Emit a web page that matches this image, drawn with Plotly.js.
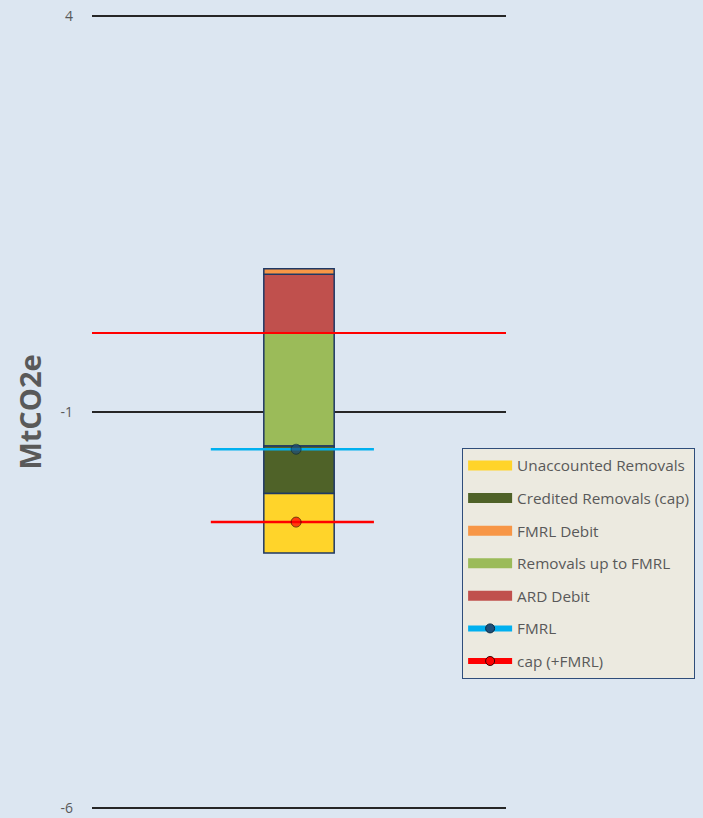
<!DOCTYPE html>
<html>
<head>
<meta charset="utf-8">
<script src="https://cdn.plot.ly/plotly-3.0.1.min.js"></script>
<style>
html,body{margin:0;padding:0;background:#dce6f1;}
#chart{width:703px;height:818px;}
</style>
</head>
<body>
<div id="chart"></div>
<script>
// Stacked bar series (stack order, MtCO2e)
var category = [0];
var seriesNames = ["ARD Debit", "Removals up to FMRL", "FMRL Debit", "Credited Removals (cap)", "Unaccounted Removals"];
var seriesValues = [0.74, -1.43, 0.07, -0.60, -0.75];
var seriesColors = ["#c0504d", "#9bbb59", "#f79646", "#4f6228", "#ffd42a"];
var legendRanks = [5, 4, 3, 2, 1];

// Reference lines
var fmrlValue = -1.47;
var capValue = -2.39;
var lineX = [-0.213, -0.007, 0.181];

var yTickVals = [-6, -1, 4];

var data = [];

// bars (stacked: positives up, negatives down)
for (var i = 0; i < seriesNames.length; i++) {
  data.push({type:'bar', x:category, y:[seriesValues[i]], name:seriesNames[i], width:0.17,
    showlegend:false,
    marker:{color:seriesColors[i], line:{color:'#1f3864', width:1.5}}});
}

// reference lines
data.push({type:'scatter', x:lineX, y:[fmrlValue, fmrlValue, fmrlValue], mode:'lines+markers', showlegend:false,
  line:{color:'#00b0f0', width:2.5}, marker:{color:'#1f4e79', size:[0,10,0], line:{color:'#0a2a40', width:[0,1,0]}}});
data.push({type:'scatter', x:lineX, y:[capValue, capValue, capValue], mode:'lines+markers', showlegend:false,
  line:{color:'#ff0000', width:2.5}, marker:{color:'#ff0000', size:[0,10,0], line:{color:'#3a0000', width:[0,1,0]}}});

// legend entries
for (var j = 0; j < seriesNames.length; j++) {
  data.push({type:'scatter', x:[null], y:[null], name:seriesNames[j], mode:'lines',
    line:{color:seriesColors[j], width:10}, legendgroup:'g'+legendRanks[j], legendrank:legendRanks[j], hoverinfo:'skip'});
}
data.push({type:'scatter', x:[null], y:[null], name:'FMRL', mode:'lines+markers',
  line:{color:'#00b0f0', width:6}, marker:{color:'#1f4e79', size:9, line:{color:'#0a2a40', width:1}},
  legendgroup:'g6', legendrank:6, hoverinfo:'skip'});
data.push({type:'scatter', x:[null], y:[null], name:'cap (+FMRL)', mode:'lines+markers',
  line:{color:'#ff0000', width:6}, marker:{color:'#ff0000', size:9, line:{color:'#3a0000', width:1}},
  legendgroup:'g7', legendrank:7, hoverinfo:'skip'});

var layout = {
  width:703, height:818,
  paper_bgcolor:'#dce6f1', plot_bgcolor:'#dce6f1',
  margin:{l:92, r:197, t:12, b:6},
  barmode:'relative',
  showlegend:true,
  legend:{
    x:0.894, xanchor:'left', y:0.455, yanchor:'top',
    bgcolor:'#eceae0', bordercolor:'#2f4d7a', borderwidth:1,
    traceorder:'grouped', tracegroupgap:9.7,
    itemwidth:44,
    font:{family:'Open Sans, sans-serif', size:15.3, color:'#595959'}
  },
  xaxis:{range:[-0.5,0.5], visible:false, showgrid:false, zeroline:false, fixedrange:true},
  yaxis:{
    range:[-6.05, 4.05], tickvals:yTickVals, ticktext:yTickVals.map(String),
    showgrid:true, gridcolor:'#262626', gridwidth:1.5,
    zeroline:true, zerolinecolor:'#ff0000', zerolinewidth:1.5, zerolinelayer:'above traces',
    showline:false, ticks:'', ticklabelstandoff:18,
    tickfont:{family:'Open Sans, sans-serif', size:14, color:'#595959'},
    title:{text:'MtCO2e', standoff:10, font:{family:'Open Sans, sans-serif', size:29, color:'#595959', weight:'bold'}},
    automargin:false
  }
};

Plotly.newPlot('chart', data, layout, {displayModeBar:false, staticPlot:true});
</script>
</body>
</html>
